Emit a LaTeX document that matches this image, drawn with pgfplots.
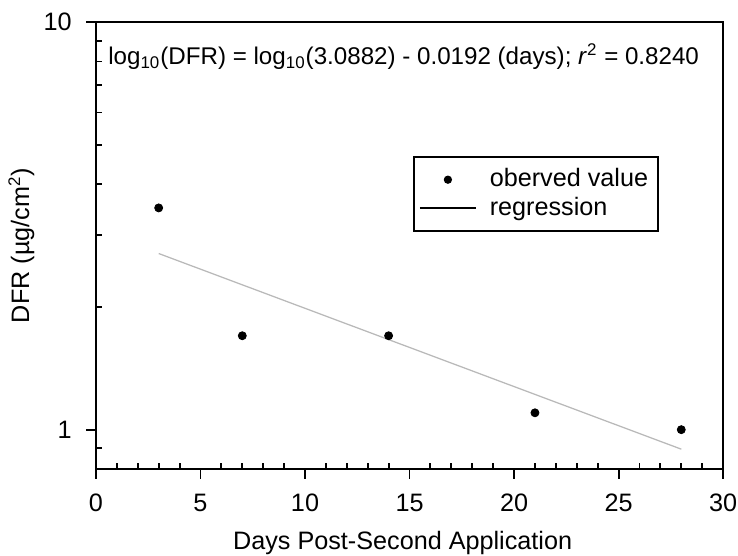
\documentclass[border=0pt]{standalone}
\usepackage{fontspec}
\setmainfont{Liberation Sans}
\usepackage{pgfplots}
\pgfplotsset{compat=1.18}
\begin{document}
\fontsize{12}{14.4}\selectfont
\begin{tikzpicture}
\begin{axis}[name=ax, scale only axis, width=298.6pt, height=212.9pt,
  ymode=log, xmin=0, xmax=30, ymin=0.8, ymax=10,
  xtick={0,5,...,30}, minor x tick num=4,
  ytick={1,10}, yticklabels={1,10}, minor ytick={0.9,2,3,4,5,6,7,8,9},
  /pgf/number format/assume math mode=true,
  tick pos=left, tick align=inside,
  major tick length=-4.8pt, minor tick length=2.9pt,
  axis line style={line width=0.9pt},
  major tick style={black, line width=0.9pt},
  minor tick style={black, line width=0.9pt},
  xticklabel style={anchor=center, inner sep=0pt, yshift=-16.2pt},
  yticklabel style={anchor=east, inner sep=0pt, xshift=-11.4pt},
  xlabel={Days Post-Second Application},
  xlabel style={at={(axis description cs:0.489,-0.1655)}, anchor=center},
  ylabel={DFR (µg/cm\textsuperscript{2})},
  ylabel style={at={(axis description cs:-0.119,0.5)}, anchor=center},
  legend cell align=left,
  legend style={at={(axis description cs:0.5056,0.700)}, anchor=north west,
    draw=black, line width=0.7pt, row sep=-1pt, column sep=4.3pt,
    inner xsep=2.6pt, inner ysep=3.6pt,
    font=\fontsize{12}{14.4}\selectfont},
]
\addplot[only marks, mark=*, mark size=1.9pt, black,
  legend image code/.code={\path[draw=none,fill=none] (0pt,0pt) -- (26.7pt,0pt); \fill[black] (13.35pt,0pt) circle (1.6pt);}]
  coordinates {(3,3.5) (7,1.7) (14,1.7) (21,1.1) (28,1.0)};
\addlegendentry{oberved value}
\addplot[gray!55, line width=0.6pt, forget plot] coordinates {(3,2.705) (28,0.8957)};
\addlegendimage{black, line width=0.6pt, legend image code/.code={\draw (0pt,0pt) -- (26.7pt,0pt);}}
\addlegendentry{regression}
\node[anchor=west, inner sep=0pt, font=\fontsize{11.5}{13.8}\selectfont] at (rel axis cs:0.019,0.922)
  {log\textsubscript{10}(DFR) = log\textsubscript{10}(3.0882) - 0.0192 (days); \textit{r}\textsuperscript{2} = 0.8240};
\end{axis}
\pgfresetboundingbox
\path[use as bounding box] ([xshift=-45.7pt,yshift=-41pt]ax.south west) rectangle ([xshift=7.1pt,yshift=10.5pt]ax.north east);
\end{tikzpicture}
\end{document}
